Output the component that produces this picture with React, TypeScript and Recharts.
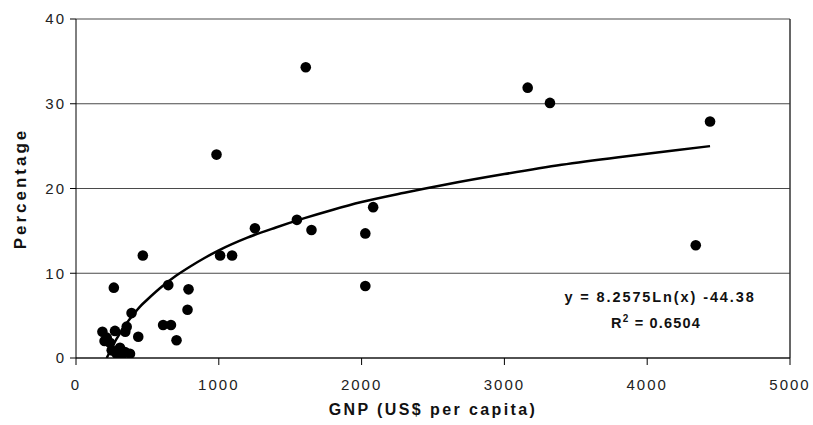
import {
  ComposedChart,
  Scatter,
  Line,
  XAxis,
  YAxis,
  CartesianGrid,
  ReferenceLine,
  ReferenceDot,
  Label,
} from 'recharts';

// GNP per capita (US$) and percentage
const gnp = [
  1609, 3163, 3319, 4440, 984, 2081, 1547, 1253, 1649, 2026, 4340, 468, 1009, 1093,
  2026, 646, 265, 788, 781, 389, 610, 665, 436, 704, 355, 345, 273, 185, 215, 238,
  250, 285, 308, 343, 378, 320, 200,
];
const percentage = [
  34.3, 31.9, 30.1, 27.9, 24.0, 17.8, 16.3, 15.3, 15.1, 14.7, 13.3, 12.1, 12.1, 12.1,
  8.5, 8.6, 8.3, 8.1, 5.7, 5.3, 3.9, 3.9, 2.5, 2.1, 3.7, 3.1, 3.2, 3.1, 2.4, 1.8,
  0.9, 0.5, 1.2, 0.7, 0.5, 0.3, 2.0,
];

// logarithmic trendline, points
const trendX = [
  215, 230, 250, 275, 300, 350, 400, 450, 500, 600, 700, 800, 900, 1000, 1200, 1400,
  1600, 1800, 2000, 2300, 2600, 3000, 3400, 3800, 4200, 4440,
];
const trendY = [
  0.0, 0.5, 1.2, 2.0, 2.7, 4.0, 5.1, 6.1, 6.9, 8.4, 9.7, 10.8, 11.8, 12.7, 14.2, 15.4,
  16.5, 17.5, 18.4, 19.5, 20.5, 21.7, 22.8, 23.7, 24.5, 25.0,
];

const xTicks = [0, 1000, 2000, 3000, 4000, 5000];
const yTicks = [0, 10, 20, 30, 40];

const equation = 'y = 8.2575Ln(x) -44.38';
const rSquared = '0.6504';

const points = gnp.map((x, i) => ({ x, y: percentage[i] }));
const trend = trendX.map((x, i) => ({ x, y: trendY[i] }));

const font = '"Liberation Sans", Arial, sans-serif';
const tickStyle = { fontSize: 15, fill: '#222', fontFamily: font, letterSpacing: 2 };

const Dot = (props: any) => <circle cx={props.cx} cy={props.cy} r={5.3} fill="#000" />;

export default function App() {
  return (
    <div style={{ width: 813, height: 425, background: '#fff' }}>
      <style>{`body{margin:0}`}</style>
      <ComposedChart width={813} height={425} margin={{ top: 19, right: 23, left: 0, bottom: 0 }}>
        <CartesianGrid vertical={false} stroke="#4a4a4a" strokeWidth={1.2} />
        <ReferenceLine x={5000} stroke="#333" strokeWidth={1.5} />
        <XAxis
          type="number"
          dataKey="x"
          domain={[0, 5000]}
          ticks={xTicks}
          height={67}
          stroke="#000"
          tickSize={7}
          tickMargin={14}
          tick={tickStyle}
          allowDataOverflow
        >
          <Label
            content={({ viewBox }: any) => (
              <text
                x={viewBox.x + viewBox.width / 2}
                y={viewBox.y + 57}
                textAnchor="middle"
                fontFamily={font}
                fontWeight="bold"
                fontSize={16}
                letterSpacing={2.4}
                fill="#111"
              >
                GNP (US$ per capita)
              </text>
            )}
          />
        </XAxis>
        <YAxis
          type="number"
          dataKey="y"
          domain={[0, 40]}
          ticks={yTicks}
          width={76}
          stroke="#000"
          tickSize={6}
          tickMargin={4}
          tick={tickStyle}
          allowDataOverflow
        >
          <Label
            content={({ viewBox }: any) => {
              const cx = viewBox.x + 20;
              const cy = viewBox.y + viewBox.height / 2;
              return (
                <text
                  x={cx}
                  y={cy}
                  transform={`rotate(-90 ${cx} ${cy})`}
                  textAnchor="middle"
                  dominantBaseline="central"
                  fontFamily={font}
                  fontWeight="bold"
                  fontSize={17}
                  letterSpacing={3}
                  fill="#111"
                >
                  Percentage
                </text>
              );
            }}
          />
        </YAxis>
        <Scatter data={points} dataKey="y" fill="#000" shape={Dot} isAnimationActive={false} />
        <Line
          data={trend}
          dataKey="y"
          type="monotone"
          stroke="#000"
          strokeWidth={2.5}
          dot={false}
          activeDot={false}
          isAnimationActive={false}
        />
        <ReferenceDot
          x={4090}
          y={7.2}
          r={0}
          fill="none"
          stroke="none"
          label={({ viewBox }: any) => {
            const cx = viewBox.x + viewBox.width / 2;
            const cy = viewBox.y + viewBox.height / 2;
            return (
              <g fontFamily={font} fontWeight="bold" fill="#111">
                <text x={cx} y={cy + 5} textAnchor="middle" fontSize={14.5} letterSpacing={1.9}>
                  {equation}
                </text>
                <text x={cx - 4} y={cy + 31} textAnchor="middle" fontSize={14.5} letterSpacing={1.2}>
                  R<tspan dy={-6} fontSize={10}>2</tspan>
                  <tspan dy={6}> = {rSquared}</tspan>
                </text>
              </g>
            );
          }}
        />
      </ComposedChart>
    </div>
  );
}
